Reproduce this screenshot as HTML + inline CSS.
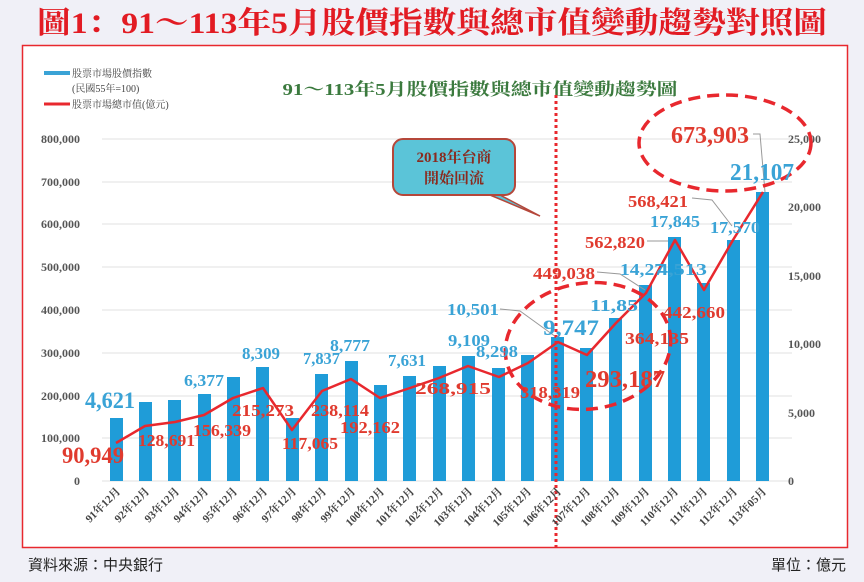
<!DOCTYPE html>
<html><head><meta charset="utf-8"><style>
html,body{margin:0;padding:0;background:#f0f0f7;}
svg{display:block}
text{font-family:"Liberation Serif","Noto Serif CJK SC",serif}
.lb text{font-weight:bold}
</style></head><body>
<svg width="864" height="582" viewBox="0 0 864 582" xmlns="http://www.w3.org/2000/svg">
<rect width="864" height="582" fill="#f0f0f7"/>
<text x="432" y="33" text-anchor="middle" font-size="30" font-weight="bold" fill="#e21b23" textLength="790" lengthAdjust="spacingAndGlyphs">圖1：91～113年5月股價指數與總市值變動趨勢對照圖</text>
<rect x="22.5" y="45.5" width="825" height="502" fill="#fff" stroke="#e8282e" stroke-width="1.5"/>
<text x="28" y="570" font-size="15" fill="#222" style="font-family:'Liberation Sans','Noto Sans CJK TC',sans-serif">資料來源：中央銀行</text>
<text x="846" y="570" text-anchor="end" font-size="15" fill="#222" style="font-family:'Liberation Sans','Noto Sans CJK TC',sans-serif">單位：億元</text>
<line x1="44" y1="73" x2="70" y2="73" stroke="#3aa3d6" stroke-width="4"/>
<text x="72" y="77" font-size="10" fill="#444">股票市場股價指數</text>
<text x="72" y="92" font-size="10" fill="#444">(民國55年=100)</text>
<line x1="44" y1="104" x2="70" y2="104" stroke="#e8282e" stroke-width="3"/>
<text x="72" y="108" font-size="10" fill="#444">股票市場總市值(億元)</text>
<text x="480" y="95" text-anchor="middle" font-size="17" font-weight="bold" fill="#3b7a3e" textLength="395" lengthAdjust="spacingAndGlyphs">91～113年5月股價指數與總市值變動趨勢圖</text>
<g stroke="#e2e2e2" stroke-width="1">
<line x1="102" y1="139" x2="792" y2="139"/><line x1="102" y1="182" x2="792" y2="182"/><line x1="102" y1="224" x2="792" y2="224"/><line x1="102" y1="267" x2="792" y2="267"/><line x1="102" y1="310" x2="792" y2="310"/><line x1="102" y1="353" x2="792" y2="353"/><line x1="102" y1="396" x2="792" y2="396"/><line x1="102" y1="438" x2="792" y2="438"/><line x1="102" y1="481" x2="792" y2="481"/>
</g>
<g font-size="12" fill="#555" text-anchor="end" font-weight="bold">
<text x="80" y="143">800,000</text><text x="80" y="186">700,000</text><text x="80" y="228">600,000</text><text x="80" y="271">500,000</text><text x="80" y="314">400,000</text><text x="80" y="357">300,000</text><text x="80" y="400">200,000</text><text x="80" y="442">100,000</text><text x="80" y="485">0</text>
</g>
<g font-size="12" fill="#555" font-weight="bold">
<text x="788" y="143">25,000</text><text x="788" y="211">20,000</text><text x="788" y="280">15,000</text><text x="788" y="348">10,000</text><text x="788" y="417">5,000</text><text x="788" y="485">0</text>
</g>
<g fill="#1f9cd8">
<rect x="110" y="418" width="13" height="63"/><rect x="139" y="402" width="13" height="79"/><rect x="168" y="400" width="13" height="81"/><rect x="198" y="394" width="13" height="87"/><rect x="227" y="377" width="13" height="104"/><rect x="256" y="367" width="13" height="114"/><rect x="286" y="418" width="13" height="63"/><rect x="315" y="374" width="13" height="107"/><rect x="345" y="361" width="13" height="120"/><rect x="374" y="385" width="13" height="96"/><rect x="403" y="376" width="13" height="105"/><rect x="433" y="366" width="13" height="115"/><rect x="462" y="356" width="13" height="125"/><rect x="492" y="368" width="13" height="113"/><rect x="521" y="355" width="13" height="126"/><rect x="551" y="337" width="13" height="144"/><rect x="580" y="348" width="13" height="133"/><rect x="609" y="318" width="13" height="163"/><rect x="639" y="285" width="13" height="196"/><rect x="668" y="237" width="13" height="244"/><rect x="697" y="283" width="13" height="198"/><rect x="727" y="240" width="13" height="241"/><rect x="756" y="192" width="13" height="289"/>
</g>
<g stroke="#999" stroke-width="1" fill="none">
<polyline points="500,309 520,311 556,337"/>
<polyline points="597,272 620,274 645,290"/>
<polyline points="647,241 668,241"/>
<polyline points="692,198 712,200 732,226"/>
<polyline points="753,134 760,134 765,192"/>
</g>
<polyline fill="none" stroke="#e8282e" stroke-width="2.5" stroke-linejoin="round" points="116,443 145,426 175,422 204,415 233,398 263,388 292,430 322,391 351,379 380,398 410,388 439,378 468,366 499,377 528,363 558,342 587,355 616,323 646,293 675,240 704,290 733,240 763,192"/>
<line x1="556" y1="95" x2="556" y2="548" stroke="#e8282e" stroke-width="3" stroke-dasharray="3,3"/>
<ellipse cx="588" cy="346" rx="83" ry="63" fill="none" stroke="#e8282e" stroke-width="3.5" stroke-dasharray="12,7" transform="rotate(-8 588 346)"/>
<ellipse cx="725" cy="143" rx="86" ry="48" fill="none" stroke="#e8282e" stroke-width="3.5" stroke-dasharray="12,7"/>
<path d="M500,195 L540,216 L490,195 Z" fill="#5bc4d8" stroke="#b5473a" stroke-width="1.5"/>
<rect x="393" y="139" width="122" height="56" rx="10" fill="#5bc4d8" stroke="#b5473a" stroke-width="2"/>
<text x="454" y="162" text-anchor="middle" font-size="15" font-weight="bold" fill="#8a2a1e">2018年台商</text>
<text x="454" y="183" text-anchor="middle" font-size="15" font-weight="bold" fill="#8a2a1e">開始回流</text>
<g fill="#3aa3d6" class="lb">
<text x="85" y="408" font-size="23" textLength="50" lengthAdjust="spacingAndGlyphs">4,621</text>
<text x="184" y="386" font-size="17" textLength="40" lengthAdjust="spacingAndGlyphs">6,377</text>
<text x="242" y="359" font-size="17" textLength="38" lengthAdjust="spacingAndGlyphs">8,309</text>
<text x="303" y="364" font-size="17" textLength="37" lengthAdjust="spacingAndGlyphs">7,837</text>
<text x="330" y="351" font-size="17" textLength="40" lengthAdjust="spacingAndGlyphs">8,777</text>
<text x="388" y="366" font-size="17" textLength="38" lengthAdjust="spacingAndGlyphs">7,631</text>
<text x="448" y="346" font-size="17" textLength="42" lengthAdjust="spacingAndGlyphs">9,109</text>
<text x="476" y="357" font-size="17" textLength="42" lengthAdjust="spacingAndGlyphs">8,298</text>
<text x="447" y="315" font-size="17" textLength="52" lengthAdjust="spacingAndGlyphs">10,501</text>
<text x="543" y="335" font-size="22" textLength="56" lengthAdjust="spacingAndGlyphs">9,747</text>
<text x="590" y="311" font-size="17" textLength="48" lengthAdjust="spacingAndGlyphs">11,85</text>
<text x="620" y="275" font-size="17" textLength="44" lengthAdjust="spacingAndGlyphs">14,27</text>
<text x="657" y="275" font-size="17" textLength="50" lengthAdjust="spacingAndGlyphs">4,513</text>
<text x="650" y="227" font-size="17" textLength="50" lengthAdjust="spacingAndGlyphs">17,845</text>
<text x="710" y="233" font-size="17" textLength="50" lengthAdjust="spacingAndGlyphs">17,570</text>
<text x="730" y="180" font-size="24" textLength="64" lengthAdjust="spacingAndGlyphs">21,107</text>
</g>
<g fill="#e03a2e" class="lb">
<text x="62" y="463" font-size="23" textLength="62" lengthAdjust="spacingAndGlyphs">90,949</text>
<text x="138" y="446" font-size="17" textLength="57" lengthAdjust="spacingAndGlyphs">128,691</text>
<text x="193" y="436" font-size="17" textLength="58" lengthAdjust="spacingAndGlyphs">156,339</text>
<text x="232" y="416" font-size="17" textLength="62" lengthAdjust="spacingAndGlyphs">215,273</text>
<text x="282" y="449" font-size="17" textLength="56" lengthAdjust="spacingAndGlyphs">117,065</text>
<text x="311" y="416" font-size="17" textLength="58" lengthAdjust="spacingAndGlyphs">238,114</text>
<text x="340" y="433" font-size="17" textLength="60" lengthAdjust="spacingAndGlyphs">192,162</text>
<text x="415" y="394" font-size="17" textLength="76" lengthAdjust="spacingAndGlyphs">268,915</text>
<text x="520" y="398" font-size="17" textLength="60" lengthAdjust="spacingAndGlyphs">318,319</text>
<text x="585" y="387" font-size="24" textLength="80" lengthAdjust="spacingAndGlyphs">293,187</text>
<text x="625" y="344" font-size="17" textLength="64" lengthAdjust="spacingAndGlyphs">364,135</text>
<text x="533" y="279" font-size="17" textLength="62" lengthAdjust="spacingAndGlyphs">449,038</text>
<text x="663" y="318" font-size="17" textLength="62" lengthAdjust="spacingAndGlyphs">442,660</text>
<text x="585" y="248" font-size="17" textLength="60" lengthAdjust="spacingAndGlyphs">562,820</text>
<text x="628" y="207" font-size="17" textLength="60" lengthAdjust="spacingAndGlyphs">568,421</text>
<text x="671" y="143" font-size="24" textLength="78" lengthAdjust="spacingAndGlyphs">673,903</text>
</g>
<g font-size="11" fill="#444" text-anchor="end" font-weight="bold">
<text transform="translate(121,492) rotate(-45)">91年12月</text>
<text transform="translate(150,492) rotate(-45)">92年12月</text>
<text transform="translate(180,492) rotate(-45)">93年12月</text>
<text transform="translate(209,492) rotate(-45)">94年12月</text>
<text transform="translate(238,492) rotate(-45)">95年12月</text>
<text transform="translate(268,492) rotate(-45)">96年12月</text>
<text transform="translate(297,492) rotate(-45)">97年12月</text>
<text transform="translate(327,492) rotate(-45)">98年12月</text>
<text transform="translate(356,492) rotate(-45)">99年12月</text>
<text transform="translate(385,492) rotate(-45)">100年12月</text>
<text transform="translate(415,492) rotate(-45)">101年12月</text>
<text transform="translate(444,492) rotate(-45)">102年12月</text>
<text transform="translate(473,492) rotate(-45)">103年12月</text>
<text transform="translate(503,492) rotate(-45)">104年12月</text>
<text transform="translate(532,492) rotate(-45)">105年12月</text>
<text transform="translate(562,492) rotate(-45)">106年12月</text>
<text transform="translate(591,492) rotate(-45)">107年12月</text>
<text transform="translate(620,492) rotate(-45)">108年12月</text>
<text transform="translate(650,492) rotate(-45)">109年12月</text>
<text transform="translate(679,492) rotate(-45)">110年12月</text>
<text transform="translate(708,492) rotate(-45)">111年12月</text>
<text transform="translate(738,492) rotate(-45)">112年12月</text>
<text transform="translate(767,492) rotate(-45)">113年05月</text>
</g>
</svg>
</body></html>
